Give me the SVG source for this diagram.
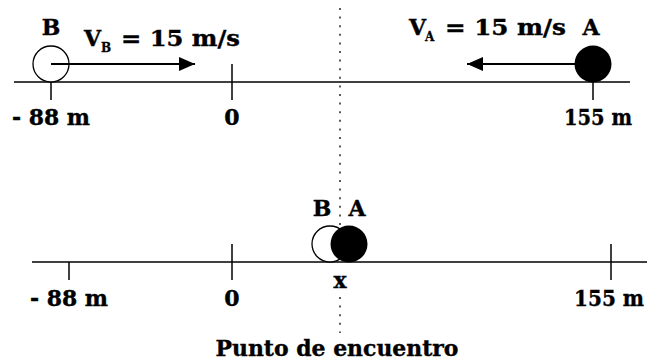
<svg xmlns="http://www.w3.org/2000/svg" width="650" height="363" viewBox="0 0 650 363">
<style>
text{font-family:"DejaVu Serif","Liberation Serif",serif;font-weight:bold;font-size:22px;fill:#000;stroke:#000;stroke-width:0.4}
.sub{font-size:12px;stroke-width:0.3}
.mid{text-anchor:middle}
.ax{stroke:#000;stroke-width:1.5;fill:none}
.dot{stroke:#000;stroke-width:1.3;stroke-dasharray:2 6.6;fill:none}
.arr{stroke:#000;stroke-width:2;fill:none}
</style>
<defs>
<marker id="ah" markerUnits="userSpaceOnUse" markerWidth="16" markerHeight="14" refX="16" refY="7" orient="auto">
<path d="M0,0 L16,7 L0,14 Z" fill="#000"/>
</marker>
</defs>
<rect width="650" height="363" fill="#fff"/>
<g id="reference-line">
<line class="dot" x1="340" y1="8" x2="340" y2="262"/>
<line class="dot" x1="340" y1="297" x2="340" y2="333"/>
</g>
<g id="axis-top">
<line class="ax" x1="14" y1="82" x2="630" y2="82"/>
<line class="ax" x1="51" y1="82" x2="51" y2="100"/>
<line class="ax" x1="232" y1="64" x2="232" y2="100"/>
<line class="ax" x1="593" y1="82" x2="593" y2="100"/>
<text class="mid" x="51" y="125" textLength="78" lengthAdjust="spacingAndGlyphs">- 88 m</text>
<text class="mid" x="232" y="125">0</text>
<text class="mid" x="598" y="125" textLength="68" lengthAdjust="spacingAndGlyphs">155 m</text>
</g>
<g id="axis-bottom">
<line class="ax" x1="32" y1="262" x2="647" y2="262"/>
<line class="ax" x1="69" y1="262" x2="69" y2="280"/>
<line class="ax" x1="232" y1="244" x2="232" y2="280"/>
<line class="ax" x1="611" y1="244" x2="611" y2="280"/>
<text class="mid" x="69" y="306" textLength="78" lengthAdjust="spacingAndGlyphs">- 88 m</text>
<text class="mid" x="232" y="306">0</text>
<text class="mid" x="609" y="306" textLength="70" lengthAdjust="spacingAndGlyphs">155 m</text>
</g>
<g id="ball-B-start">
<circle cx="51" cy="64" r="18" fill="#fff" stroke="#000" stroke-width="1.3"/>
<text class="mid" x="51" y="35">B</text>
</g>
<g id="ball-A-start">
<circle cx="593" cy="64" r="18.5" fill="#000"/>
<text class="mid" x="591" y="35">A</text>
</g>
<g id="connectors">
<line class="arr" x1="51" y1="64" x2="195" y2="64" marker-end="url(#ah)"/>
<line class="arr" x1="593" y1="64" x2="467" y2="64" marker-end="url(#ah)"/>
</g>
<g id="label-vB">
<text x="84" y="46">V</text>
<text class="sub" x="101" y="52">B</text>
<text x="121" y="46" textLength="119" lengthAdjust="spacingAndGlyphs">= 15 m/s</text>
</g>
<g id="label-vA">
<text x="409" y="35">V</text>
<text class="sub" x="425" y="41">A</text>
<text x="445" y="35" textLength="121" lengthAdjust="spacingAndGlyphs">= 15 m/s</text>
</g>
<g id="ball-B-meet">
<circle cx="330" cy="244" r="18" fill="#fff" stroke="#000" stroke-width="1.3"/>
<text class="mid" x="322" y="216">B</text>
</g>
<g id="ball-A-meet">
<circle cx="349" cy="244" r="18.5" fill="#000"/>
<text class="mid" x="357" y="216">A</text>
</g>
<g id="meeting-point">
<text class="mid" x="340" y="288">x</text>
<text class="mid" x="337" y="356" textLength="243" lengthAdjust="spacingAndGlyphs">Punto de encuentro</text>
</g>
</svg>
